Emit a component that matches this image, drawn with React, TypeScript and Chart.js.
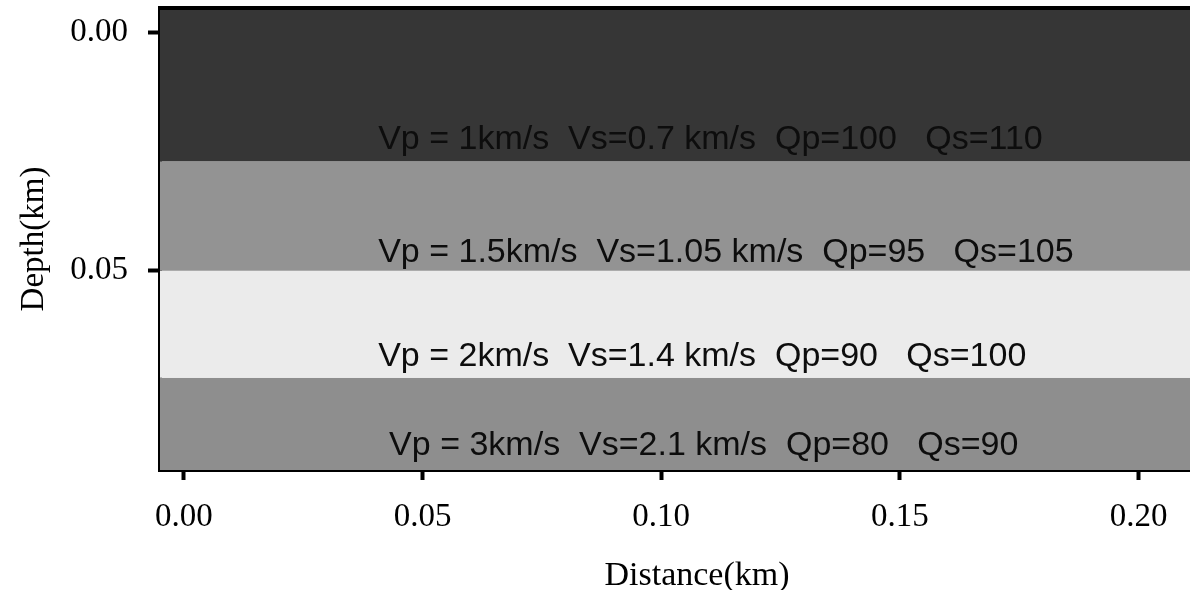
import React, { useEffect, useRef } from 'react';
import { Chart, registerables } from 'chart.js';

Chart.register(...registerables);

// Layer boundaries (depth, km), top to bottom
const layerBounds = [-0.0052, 0.027, 0.05, 0.0725, 0.0919];
const layerColors = ['#363636', '#939393', '#ebebeb', '#8e8e8e'];
const distanceRange = [-0.005, 0.22];
const xTicks = [0, 0.05, 0.1, 0.15, 0.2];
const yTicks = [0, 0.05];
const layerLabels = [
  'Vp = 1km/s  Vs=0.7 km/s  Qp=100   Qs=110',
  'Vp = 1.5km/s  Vs=1.05 km/s  Qp=95   Qs=105',
  'Vp = 2km/s  Vs=1.4 km/s  Qp=90   Qs=100',
  'Vp = 3km/s  Vs=2.1 km/s  Qp=80   Qs=90',
];
const labelX = [0.0407, 0.0407, 0.0407, 0.043];
const labelY = [0.0244, 0.0482, 0.07, 0.0888];

const serif = "'Liberation Serif', 'Times New Roman', serif";
const sans = "'Liberation Sans', Arial, sans-serif";

const overlayPlugin = {
  id: 'overlay',
  afterDatasetsDraw(chart: any) {
    const { ctx, chartArea, scales } = chart;
    ctx.save();
    ctx.font = `34px ${sans}`;
    ctx.fillStyle = '#0d0d0d';
    ctx.textAlign = 'left';
    ctx.textBaseline = 'alphabetic';
    layerLabels.forEach((t, i) => {
      ctx.fillText(t, scales.x.getPixelForValue(labelX[i]), scales.y.getPixelForValue(labelY[i]));
    });
    ctx.strokeStyle = '#000';
    ctx.lineWidth = 4;
    ctx.beginPath();
    ctx.moveTo(chartArea.left - 2, chartArea.top);
    ctx.lineTo(chartArea.right, chartArea.top);
    ctx.stroke();
    ctx.restore();
  },
};

export default function App() {
  const ref = useRef<HTMLCanvasElement>(null);
  useEffect(() => {
    if (!ref.current) return;
    const datasets = layerBounds.map((b, i) => ({
      data: distanceRange.map((x) => ({ x, y: b })),
      fill: i < layerColors.length ? '+1' : false,
      backgroundColor: layerColors[i] || 'transparent',
      borderWidth: 0,
      pointRadius: 0,
    }));
    const chart = new Chart(ref.current, {
      type: 'line',
      data: { datasets: datasets as any },
      options: {
        responsive: false,
        animation: false,
        layout: { padding: { left: 15, top: 8, right: 0, bottom: 0 } },
        plugins: { legend: { display: false }, tooltip: { enabled: false } },
        scales: {
          x: {
            type: 'linear',
            position: 'bottom',
            min: distanceRange[0],
            max: distanceRange[1],
            z: 1,
            afterBuildTicks: (s: any) => {
              s.ticks = xTicks.map((v) => ({ value: v }));
            },
            afterFit: (s: any) => {
              s.height = 126;
              s.paddingLeft = 0;
              s.paddingRight = 0;
            },
            ticks: {
              callback: (v: any) => Number(v).toFixed(2),
              font: { family: serif, size: 33 },
              color: '#000',
              padding: 18,
              maxRotation: 0,
              autoSkip: false,
            },
            grid: { display: true, drawOnChartArea: false, drawTicks: true, tickLength: 10, tickWidth: 4, tickColor: '#000' },
            border: { display: true, color: '#000', width: 4 },
            title: { display: true, text: 'Distance(km)', font: { family: serif, size: 34 }, color: '#000', padding: { top: 0, bottom: 0 } },
          },
          y: {
            type: 'linear',
            reverse: true,
            min: layerBounds[0],
            max: layerBounds[layerBounds.length - 1],
            z: 1,
            afterBuildTicks: (s: any) => {
              s.ticks = yTicks.map((v) => ({ value: v }));
            },
            afterFit: (s: any) => {
              s.width = 145;
              s.paddingTop = 0;
              s.paddingBottom = 0;
            },
            ticks: {
              callback: (v: any) => Number(v).toFixed(2),
              font: { family: serif, size: 33 },
              color: '#000',
              padding: 20,
              autoSkip: false,
            },
            grid: { display: true, drawOnChartArea: false, drawTicks: true, tickLength: 12, tickWidth: 4, tickColor: '#000' },
            border: { display: true, color: '#000', width: 4 },
            title: { display: true, text: 'Depth(km)', font: { family: serif, size: 33 }, color: '#000', padding: { top: 0, bottom: 0 } },
          },
        },
      },
      plugins: [overlayPlugin],
    } as any);
    return () => chart.destroy();
  }, []);
  return (
    <div style={{ position: 'absolute', left: 0, top: 0, width: 1190, height: 590, overflow: 'hidden', background: '#fff' }}>
      <canvas ref={ref} width={1234} height={596} style={{ display: 'block', width: 1234, height: 596 }} />
    </div>
  );
}
